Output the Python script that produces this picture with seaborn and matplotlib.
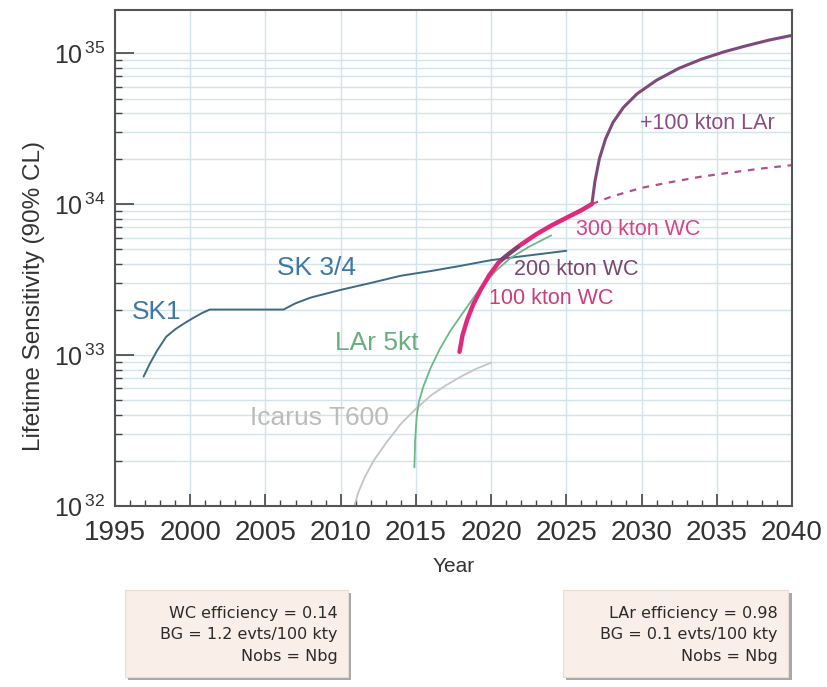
import numpy as np
import matplotlib
matplotlib.use("Agg")
import matplotlib.pyplot as plt
import seaborn as sns
from matplotlib.patches import Rectangle
from matplotlib.ticker import LogLocator, MultipleLocator, NullFormatter

# curves (year, lifetime in years)
sk_year = [1996.9, 1997.3, 1997.8, 1998.4, 1999.0, 1999.6, 2000.2, 2000.8, 2001.3,
           2006.2, 2007.0, 2008.0, 2010.0, 2012.0, 2014.0, 2016.0, 2018.0, 2020.0, 2022.0, 2025.0]
sk_life = [7.2e32, 8.7e32, 1.07e33, 1.32e33, 1.48e33, 1.62e33, 1.76e33, 1.9e33, 2.0e33,
           2.0e33, 2.2e33, 2.4e33, 2.7e33, 3.0e33, 3.35e33, 3.6e33, 3.9e33, 4.25e33, 4.5e33, 4.9e33]

lar5_year = [2014.9, 2014.95, 2015.05, 2015.2, 2015.5, 2016.0, 2016.6, 2017.3, 2018.2,
             2019.2, 2020.3, 2021.3, 2022.5, 2024.0]
lar5_life = [1.8e32, 2.7e32, 3.9e32, 4.9e32, 6.2e32, 8.3e32, 1.1e33, 1.45e33, 1.95e33,
             2.7e33, 3.6e33, 4.4e33, 5.2e33, 6.2e33]

icarus_year = [2010.9, 2011.2, 2011.6, 2012.2, 2013.0, 2014.0, 2015.0, 2016.0, 2017.0,
               2018.0, 2019.0, 2020.0]
icarus_life = [1.0e32, 1.25e32, 1.55e32, 2.0e32, 2.6e32, 3.5e32, 4.4e32, 5.4e32, 6.3e32,
               7.2e32, 8.1e32, 8.9e32]

wc_year = [2017.9, 2018.1, 2018.4, 2018.8, 2019.3, 2019.9, 2020.5, 2021.2, 2022.0,
           2023.0, 2024.0, 2025.0, 2026.0, 2026.7]
wc_life = [1.05e33, 1.35e33, 1.7e33, 2.15e33, 2.7e33, 3.4e33, 4.1e33, 4.7e33, 5.4e33,
           6.3e33, 7.2e33, 8.1e33, 9.1e33, 1.0e34]

# short darker stretch where the 200 kton curve joins
wc200_year = [2020.7, 2021.2, 2021.8]
wc200_life = [4.3e33, 4.7e33, 5.2e33]

lar100_year = [2026.7, 2026.9, 2027.2, 2027.6, 2028.1, 2028.8, 2029.7, 2031.0, 2032.5,
               2034.0, 2035.5, 2037.0, 2038.5, 2040.0]
lar100_life = [1.0e34, 1.41e34, 2.0e34, 2.69e34, 3.47e34, 4.37e34, 5.37e34, 6.61e34, 7.94e34,
               9.12e34, 1.02e35, 1.12e35, 1.22e35, 1.31e35]

wc_only_year = [2026.7, 2028.0, 2030.0, 2032.0, 2034.0, 2036.0, 2038.0, 2040.0]
wc_only_life = [1.0e34, 1.12e34, 1.28e34, 1.40e34, 1.52e34, 1.62e34, 1.72e34, 1.81e34]

wc_box = ["WC efficiency = 0.14", "BG = 1.2 evts/100 kty", "Nobs = Nbg"]
lar_box = ["LAr efficiency = 0.98", "BG = 0.1 evts/100 kty", "Nobs = Nbg"]

sns.set_theme(style="white")
plt.rcParams['font.family'] = ['Liberation Sans', 'DejaVu Sans']
plt.rcParams['mathtext.fontset'] = 'custom'
plt.rcParams['mathtext.rm'] = 'Liberation Sans'
plt.rcParams['mathtext.it'] = 'Liberation Sans'

fig = plt.figure(figsize=(8.28, 6.87), dpi=100)
ax = fig.add_axes([0.1389, 0.2635, 0.8176, 0.7219])

grid_col = '#d2e3ea'
ax.set_yscale('log')
ax.set_xlim(1995, 2040)
ax.set_ylim(1e32, 10 ** 35.285)

ax.yaxis.grid(True, which='both', color=grid_col, lw=1.0)
ax.xaxis.grid(True, which='major', color=grid_col, lw=1.0)
ax.set_axisbelow(True)

sns.lineplot(x=icarus_year, y=icarus_life, ax=ax, color='#c4c4c4', lw=1.3, estimator=None, sort=False)
sns.lineplot(x=sk_year, y=sk_life, ax=ax, color='#3f6a84', lw=1.4, estimator=None, sort=False)
sns.lineplot(x=lar5_year, y=lar5_life, ax=ax, color='#6db888', lw=1.3, estimator=None, sort=False)
sns.lineplot(x=wc_only_year, y=wc_only_life, ax=ax, color='#b0508c', lw=1.6,
             linestyle=(0, (3, 3)), estimator=None, sort=False)
sns.lineplot(x=lar100_year, y=lar100_life, ax=ax, color='#7e4a7c', lw=2.2, estimator=None, sort=False)
sns.lineplot(x=wc_year, y=wc_life, ax=ax, color='#e0287c', lw=3.2, estimator=None, sort=False)
sns.lineplot(x=wc200_year, y=wc200_life, ax=ax, color='#6e4a6c', lw=2.6, estimator=None, sort=False)

ax.text(1997.8, 1.93e33, "SK1", color='#3e78a6', fontsize=19, ha='center', va='center')
ax.text(2008.4, 3.77e33, "SK 3/4", color='#3e78a6', fontsize=19, ha='center', va='center')
ax.text(2012.4, 1.2e33, "LAr 5kt", color='#6aae7e', fontsize=19, ha='center', va='center')
ax.text(2008.6, 3.83e32, "Icarus T600", color='#bcbcbc', fontsize=19, ha='center', va='center')
ax.text(2029.8, 6.8e33, "300 kton WC", color='#d2458a', fontsize=15.5, ha='center', va='center')
ax.text(2025.65, 3.66e33, "200 kton WC", color='#7a4670', fontsize=15.5, ha='center', va='center')
ax.text(2024.0, 2.38e33, "100 kton WC", color='#cc3c80', fontsize=15.5, ha='center', va='center')
ax.text(2034.4, 3.44e34, "+100 kton LAr", color='#8a4c86', fontsize=15.5, ha='center', va='center')

ax.xaxis.set_major_locator(MultipleLocator(5))
ax.xaxis.set_minor_locator(MultipleLocator(1))
ax.set_yticks([1e32, 1e33, 1e34, 1e35],
              labels=[r'$10^{\,32}$', r'$10^{\,33}$', r'$10^{\,34}$', r'$10^{\,35}$'])
ax.yaxis.set_minor_locator(LogLocator(base=10, subs=np.arange(2, 10)))
ax.yaxis.set_minor_formatter(NullFormatter())
ax.tick_params(axis='both', which='both', direction='in', colors='#444444',
               labelcolor='#333333', top=False, right=False, left=True, bottom=True)
ax.tick_params(axis='x', which='major', length=9, width=1.2, labelsize=20, pad=10)
ax.tick_params(axis='x', which='minor', length=4, width=1.0)
ax.tick_params(axis='y', which='major', length=14, width=1.2, labelsize=18, pad=7)
ax.tick_params(axis='y', which='minor', length=5, width=1.0)
for s in ax.spines.values():
    s.set_color('#555555')
    s.set_linewidth(1.5)

ax.set_xlabel("Year", fontsize=15, color='#333333', labelpad=8)
ax.set_ylabel("Lifetime Sensitivity (90% CL)", fontsize=17.5, color='#333333')
ax.yaxis.set_label_coords(-0.103, 0.423)

# parameter boxes under the plot, with a soft drop shadow
for x0, x1, lines in [(0.151, 0.420, wc_box), (0.680, 0.952, lar_box)]:
    fig.patches.append(Rectangle((x0 + 0.004, 0.010), x1 - x0, 0.127, transform=fig.transFigure,
                                 facecolor='#a8a8a8', edgecolor='none', zorder=1))
    fig.patches.append(Rectangle((x0, 0.0146), x1 - x0, 0.127, transform=fig.transFigure,
                                 facecolor='#f9eee8', edgecolor='#eadbd3', lw=0.8, zorder=2))
    for yy, line in zip([0.1077, 0.0757, 0.0437], lines):
        fig.text(x1 - 0.0125, yy, line, ha='right', va='center', fontsize=11.5,
                 family=['DejaVu Sans'], color='#2a2a2a', zorder=3)

fig.savefig("out.png", dpi=100)
